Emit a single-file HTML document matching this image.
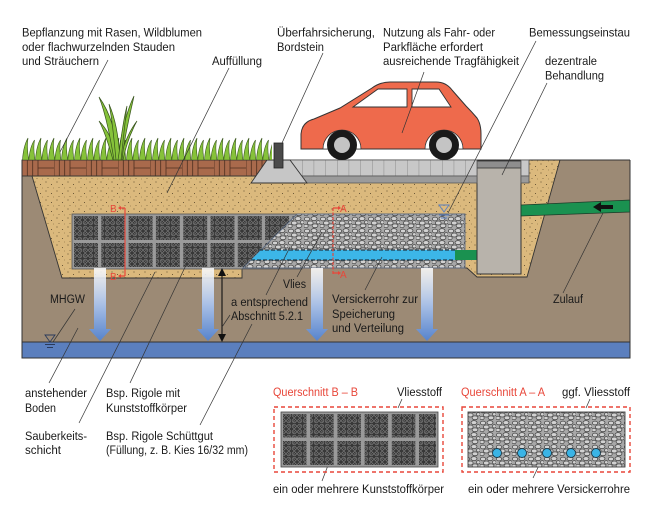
<!DOCTYPE html>
<html><head><meta charset="utf-8"><style>html,body{margin:0;padding:0;background:#fff}svg{display:block}</style></head>
<body>
<svg width="650" height="516" viewBox="0 0 650 516" xmlns="http://www.w3.org/2000/svg" font-family="'Liberation Sans', Arial, sans-serif" font-size="12.4">
<defs>
 <pattern id="sand" patternUnits="userSpaceOnUse" width="11" height="9">
  <rect width="11" height="9" fill="#dbb97d"/>
  <circle cx="2" cy="2" r="0.55" fill="#4a3a22"/>
  <circle cx="7.5" cy="4.5" r="0.5" fill="#4a3a22"/>
  <circle cx="4" cy="7.5" r="0.45" fill="#6a5532"/>
  <circle cx="9.5" cy="8" r="0.4" fill="#6a5532"/>
 </pattern>
 <pattern id="gravel" patternUnits="userSpaceOnUse" width="16" height="12">
  <rect width="16" height="12" fill="#a8a8a8"/>
  <g fill="#d2d2d2" stroke="#444" stroke-width="0.75">
   <ellipse cx="3" cy="3" rx="2.7" ry="1.9"/>
   <ellipse cx="10" cy="2.6" rx="3" ry="2"/>
   <ellipse cx="14.3" cy="6.3" rx="1.9" ry="1.7"/>
   <ellipse cx="6.3" cy="7" rx="2.8" ry="2"/>
   <ellipse cx="2" cy="10" rx="2.2" ry="1.7"/>
   <ellipse cx="11" cy="9.8" rx="2.9" ry="1.9"/>
  </g>
 </pattern>
 <pattern id="crate" patternUnits="userSpaceOnUse" width="5.5" height="5.5">
  <rect width="5.5" height="5.5" fill="#383838"/>
  <circle cx="2.75" cy="2.75" r="2.1" fill="none" stroke="#9c9c9c" stroke-width="0.5"/>
  <path d="M1.2,1.2L4.3,4.3M4.3,1.2L1.2,4.3" stroke="#8a8a8a" stroke-width="0.45"/>
 </pattern>
 <pattern id="grass" patternUnits="userSpaceOnUse" x="22" y="137" width="13" height="23">
  <path d="M0.5,23 C1,15 2.5,7 6,1 C4.8,9 5.5,16 6.8,23 Z M6.8,23 C7.5,15 9,8 12.5,3 C11.2,10 11.8,16 13,23 Z" fill="#86c23a" stroke="#37531c" stroke-width="0.6"/>
 </pattern>
 <pattern id="brick" patternUnits="userSpaceOnUse" x="22" y="160" width="32" height="16">
  <rect width="32" height="16" fill="#a96a4c"/>
  <path d="M0,0V16M5.3,0V16M10.7,0V16M16,0V16M16,8H32" stroke="#4d2e1f" stroke-width="0.8"/>
 </pattern>
 <pattern id="pave" patternUnits="userSpaceOnUse" x="302" y="160" width="11.67" height="16">
  <rect width="11.67" height="16" fill="#c8c8c8"/>
  <path d="M0,0V16" stroke="#7d7d7d" stroke-width="0.8"/>
 </pattern>
 <linearGradient id="ag" x1="0" y1="0" x2="0" y2="1">
  <stop offset="0" stop-color="#ffffff" stop-opacity="0.85"/>
  <stop offset="0.5" stop-color="#a9c0e6"/>
  <stop offset="1" stop-color="#5683cc"/>
 </linearGradient>
</defs>

<rect width="650" height="516" fill="#fff"/>

<!-- ground -->
<rect x="22" y="160" width="608" height="182" fill="#9c8a75"/>
<!-- sand -->
<polygon points="32,176 62,278 242,278 242,268 467,268 477,277 527,277 560,160 272,160 272,176" fill="url(#sand)" stroke="#333" stroke-width="0.9"/>

<!-- crate -->
<rect x="72" y="214" width="230" height="55" fill="#9a9a9a" stroke="#555" stroke-width="0.8"/>
<g fill="url(#crate)">
 <rect x="74" y="216" width="24" height="24"/><rect x="101.3" y="216" width="24" height="24"/><rect x="128.6" y="216" width="24" height="24"/><rect x="155.9" y="216" width="24" height="24"/><rect x="183.2" y="216" width="24" height="24"/><rect x="210.5" y="216" width="24" height="24"/><rect x="237.8" y="216" width="24" height="24"/><rect x="265.1" y="216" width="24" height="24"/><rect x="292.4" y="216" width="8" height="24"/>
 <rect x="74" y="243" width="24" height="24"/><rect x="101.3" y="243" width="24" height="24"/><rect x="128.6" y="243" width="24" height="24"/><rect x="155.9" y="243" width="24" height="24"/><rect x="183.2" y="243" width="24" height="24"/><rect x="210.5" y="243" width="24" height="24"/><rect x="237.8" y="243" width="24" height="24"/><rect x="265.1" y="243" width="24" height="24"/><rect x="292.4" y="243" width="8" height="24"/>
</g>
<!-- gravel -->
<polygon points="243,268 297,214 465,214 465,268" fill="url(#gravel)" stroke="#5e6b80" stroke-width="0.9"/>
<!-- perforated pipe -->
<polygon points="261,250 455,250 455,260 251,260" fill="#3cb6e8"/>
<path d="M259,250H455M251,260H455" stroke="#1f3a4a" stroke-width="1.2" stroke-dasharray="4,2"/>
<rect x="455" y="250" width="22" height="10" fill="#1a9150"/>

<!-- shaft -->
<rect x="477" y="161" width="44" height="113" fill="#b8b3ab" stroke="#333" stroke-width="1"/>
<rect x="477" y="161" width="44" height="7" fill="#8e8e8e" stroke="#333" stroke-width="0.8"/>
<!-- inflow pipe -->
<polygon points="521,205 630,200 630,212 521,216" fill="#1a9150" stroke="#1d3a28" stroke-width="0.8"/>
<polygon points="593,207 601,202 601,205 613,205 613,209 601,209 601,212" fill="#111"/>

<!-- paving -->
<polygon points="290,160 477,160 477,176 300,176" fill="url(#pave)" stroke="#555" stroke-width="0.8"/>
<polygon points="300,176 477,176 477,183 305,183" fill="#9b9b9b" stroke="#555" stroke-width="0.8"/>
<rect x="521" y="160" width="8" height="16" fill="#c8c8c8" stroke="#555" stroke-width="0.8"/>
<rect x="521" y="176" width="8" height="7" fill="#9b9b9b" stroke="#555" stroke-width="0.8"/>

<!-- bricks -->
<rect x="22" y="160" width="250" height="16" fill="url(#brick)" stroke="#333" stroke-width="0.9"/>
<!-- curb foundation -->
<polygon points="267,160 290,160 307,183 251,183" fill="#c6c6c6" stroke="#333" stroke-width="0.9"/>
<rect x="274" y="143" width="9" height="25" fill="#4a4a4a" stroke="#222" stroke-width="0.8"/>

<!-- grass -->
<rect x="22" y="137" width="250" height="23" fill="url(#grass)"/>
<g fill="#86c23a" stroke="#37531c" stroke-width="0.7">
 <path d="M113,160 C108,142 104,130 99,121 C108,130 114,142 117,160 Z"/>
 <path d="M120,160 C124,142 130,130 137,121 C131,132 126,145 123,160 Z"/>
 <path d="M114,160 C110,135 105,112 99,97 C110,112 117,135 119,160 Z"/>
 <path d="M117,160 C121,135 126,112 134,96 C130,115 124,138 122,160 Z"/>
 <path d="M116,160 C114,138 112,118 109,104 C116,120 119,140 120,160 Z"/>
 <path d="M118,160 C121,140 123,120 127,106 C125,122 123,142 121,160 Z"/>
</g>

<!-- car -->
<path d="M301,149 L301,134 Q302,122 314,119 L340,108 L372,88 Q380,82 390,82 L436,82 Q446,82 452,90 L466,106 Q472,112 477,118 Q481,124 481,134 L481,149 Z" fill="#ee6a4c" stroke="#333" stroke-width="1"/>
<path d="M353,107 L378,89 L407,89 L407,107 Z" fill="#fff" stroke="#333" stroke-width="0.9"/>
<path d="M412,89 L439,89 L451,107 L412,107 Z" fill="#fff" stroke="#333" stroke-width="0.9"/>
<path d="M323,149 A19,19 0 0 1 361,149 Z" fill="#fff" stroke="#333" stroke-width="0.8"/>
<path d="M425,149 A19,19 0 0 1 463,149 Z" fill="#fff" stroke="#333" stroke-width="0.8"/>
<circle cx="342" cy="145" r="15" fill="#1a1a1a"/>
<circle cx="342" cy="145" r="8" fill="#c4c4c4"/>
<circle cx="444" cy="145" r="15" fill="#1a1a1a"/>
<circle cx="444" cy="145" r="8" fill="#c4c4c4"/>

<!-- groundwater -->
<rect x="22" y="342" width="608" height="16" fill="#5b7fbe" stroke="#333" stroke-width="1"/>
<!-- ground box outline -->
<path d="M22,160V342M630,160V342M558,160H630" stroke="#333" stroke-width="1" fill="none"/>

<!-- infiltration arrows -->
<g fill="url(#ag)">
 <path d="M94,268H106V329H111L100,341L89,329H94Z"/>
 <path d="M202,268H214V329H219L208,341L197,329H202Z"/>
 <path d="M311,268H323V329H328L317,341L306,329H311Z"/>
 <path d="M421,268H433V329H438L427,341L416,329H421Z"/>
</g>

<!-- double arrow -->
<path d="M222,274V336" stroke="#111" stroke-width="1.1"/>
<polygon points="222,268 218,276 226,276" fill="#111"/>
<polygon points="222,342 218,334 226,334" fill="#111"/>

<!-- red section markers -->
<g stroke="#e8473a" stroke-width="1.2" fill="none">
 <path d="M125,208V276"/>
 <path d="M119,208H125M119,276H125"/>
 <path d="M333,208V275" stroke-dasharray="3,1.5"/>
 <path d="M333,208H340M333,273H340"/>
</g>
<g fill="#e8473a">
 <polygon points="118,208 121,206 121,210"/>
 <polygon points="118,276 121,274 121,278"/>
 <polygon points="341,208 338,206 338,210"/>
 <polygon points="341,273 338,271 338,275"/>
 <text x="110" y="212" font-size="10">B</text>
 <text x="110" y="280" font-size="10">B</text>
 <text x="340" y="212" font-size="10">A</text>
 <text x="340" y="278" font-size="10">A</text>
</g>

<!-- water level symbols -->
<g stroke="#2a3a5a" stroke-width="0.9" fill="none">
 <polygon points="45,335 55,335 50,342"/>
 <path d="M45,344.5H55M47,347.5H53"/>
</g>
<g stroke="#5a7fbf" stroke-width="0.9" fill="none">
 <polygon points="439,205 449,205 444,212"/>
 <path d="M439,215H449M441,218H447"/>
</g>

<!-- leader lines -->
<g stroke="#333" stroke-width="0.7" fill="none">
 <path d="M108,60L60,152"/>
 <path d="M229,68L167,193"/>
 <path d="M323,53L282,143"/>
 <path d="M424,72L402,133"/>
 <path d="M536,41L448,213"/>
 <path d="M547,83L502,175"/>
 <path d="M297,277L322,232"/>
 <path d="M230,315L222,327"/>
 <path d="M290,247L266,295"/>
 <path d="M252,324L200,425"/>
 <path d="M75,309L53,342"/>
 <path d="M78,328L49,383"/>
 <path d="M155,272L79,423"/>
 <path d="M187,263L130,383"/>
 <path d="M365,290L382,257"/>
 <path d="M563,293L603,213"/>
 <path d="M402,399L398,408"/>
 <path d="M590,399L586,408"/>
 <path d="M322,481L332,455"/>
 <path d="M533,478L543,457"/>
</g>

<!-- text -->
<g fill="#1a1a1a">
 <text x="22" y="36.5" textLength="180" lengthAdjust="spacingAndGlyphs">Bepflanzung mit Rasen, Wildblumen</text>
 <text x="22" y="51" textLength="153" lengthAdjust="spacingAndGlyphs">oder flachwurzelnden Stauden</text>
 <text x="22" y="65" textLength="77" lengthAdjust="spacingAndGlyphs">und Sträuchern</text>
 <text x="212" y="65" textLength="50" lengthAdjust="spacingAndGlyphs">Auffüllung</text>
 <text x="277" y="36.5" textLength="98" lengthAdjust="spacingAndGlyphs">Überfahrsicherung,</text>
 <text x="277" y="51" textLength="47" lengthAdjust="spacingAndGlyphs">Bordstein</text>
 <text x="383" y="36.5" textLength="112" lengthAdjust="spacingAndGlyphs">Nutzung als Fahr- oder</text>
 <text x="383" y="51" textLength="100" lengthAdjust="spacingAndGlyphs">Parkfläche erfordert</text>
 <text x="383" y="65" textLength="136" lengthAdjust="spacingAndGlyphs">ausreichende Tragfähigkeit</text>
 <text x="529" y="36.5" textLength="101" lengthAdjust="spacingAndGlyphs">Bemessungseinstau</text>
 <text x="545" y="65" textLength="52" lengthAdjust="spacingAndGlyphs">dezentrale</text>
 <text x="545" y="79.5" textLength="59" lengthAdjust="spacingAndGlyphs">Behandlung</text>

 <text x="283" y="288" textLength="23" lengthAdjust="spacingAndGlyphs">Vlies</text>
 <text x="231" y="306" textLength="77" lengthAdjust="spacingAndGlyphs">a entsprechend</text>
 <text x="231" y="320" textLength="72" lengthAdjust="spacingAndGlyphs">Abschnitt 5.2.1</text>
 <text x="50" y="303" textLength="35" lengthAdjust="spacingAndGlyphs">MHGW</text>
 <text x="332" y="303" textLength="86" lengthAdjust="spacingAndGlyphs">Versickerrohr zur</text>
 <text x="332" y="318" textLength="63" lengthAdjust="spacingAndGlyphs">Speicherung</text>
 <text x="332" y="332" textLength="72" lengthAdjust="spacingAndGlyphs">und Verteilung</text>
 <text x="553" y="303" textLength="30" lengthAdjust="spacingAndGlyphs">Zulauf</text>

 <text x="25" y="397" textLength="62" lengthAdjust="spacingAndGlyphs">anstehender</text>
 <text x="25" y="412" textLength="31" lengthAdjust="spacingAndGlyphs">Boden</text>
 <text x="25" y="440" textLength="62" lengthAdjust="spacingAndGlyphs">Sauberkeits-</text>
 <text x="25" y="454" textLength="36" lengthAdjust="spacingAndGlyphs">schicht</text>
 <text x="106" y="397" textLength="74" lengthAdjust="spacingAndGlyphs">Bsp. Rigole mit</text>
 <text x="106" y="412" textLength="81" lengthAdjust="spacingAndGlyphs">Kunststoffkörper</text>
 <text x="106" y="440" textLength="107" lengthAdjust="spacingAndGlyphs">Bsp. Rigole Schüttgut</text>
 <text x="106" y="454" textLength="142" lengthAdjust="spacingAndGlyphs">(Füllung, z. B. Kies 16/32 mm)</text>

 <text x="397" y="396" textLength="45" lengthAdjust="spacingAndGlyphs">Vliesstoff</text>
 <text x="562" y="396" textLength="68" lengthAdjust="spacingAndGlyphs">ggf. Vliesstoff</text>
 <text x="273" y="493" textLength="171" lengthAdjust="spacingAndGlyphs">ein oder mehrere Kunststoffkörper</text>
 <text x="468" y="493" textLength="162" lengthAdjust="spacingAndGlyphs">ein oder mehrere Versickerrohre</text>
</g>
<g fill="#e8473a">
 <text x="273" y="396" textLength="85" lengthAdjust="spacingAndGlyphs">Querschnitt B – B</text>
 <text x="461" y="396" textLength="84" lengthAdjust="spacingAndGlyphs">Querschnitt A – A</text>
</g>

<!-- cross section B-B -->
<rect x="274" y="407" width="169" height="65" fill="none" stroke="#e8473a" stroke-width="1.4" stroke-dasharray="4,3"/>
<rect x="281" y="412" width="157" height="55" fill="#9a9a9a" stroke="#444" stroke-width="0.8"/>
<g fill="url(#crate)">
 <rect x="283" y="414" width="23.5" height="23.5"/><rect x="310.2" y="414" width="23.5" height="23.5"/><rect x="337.4" y="414" width="23.5" height="23.5"/><rect x="364.6" y="414" width="23.5" height="23.5"/><rect x="391.8" y="414" width="23.5" height="23.5"/><rect x="419" y="414" width="17" height="23.5"/>
 <rect x="283" y="441" width="23.5" height="24"/><rect x="310.2" y="441" width="23.5" height="24"/><rect x="337.4" y="441" width="23.5" height="24"/><rect x="364.6" y="441" width="23.5" height="24"/><rect x="391.8" y="441" width="23.5" height="24"/><rect x="419" y="441" width="17" height="24"/>
</g>

<!-- cross section A-A -->
<rect x="462" y="407" width="168" height="65" fill="none" stroke="#e8473a" stroke-width="1.4" stroke-dasharray="4,3"/>
<rect x="468" y="412" width="157" height="55" fill="url(#gravel)" stroke="#444" stroke-width="0.9"/>
<g fill="#3ab4e6" stroke="#1a3a4a" stroke-width="0.9">
 <circle cx="497" cy="453" r="4.5"/>
 <circle cx="522" cy="453" r="4.5"/>
 <circle cx="547" cy="453" r="4.5"/>
 <circle cx="571" cy="453" r="4.5"/>
 <circle cx="596" cy="453" r="4.5"/>
</g>
</svg>
</body></html>
